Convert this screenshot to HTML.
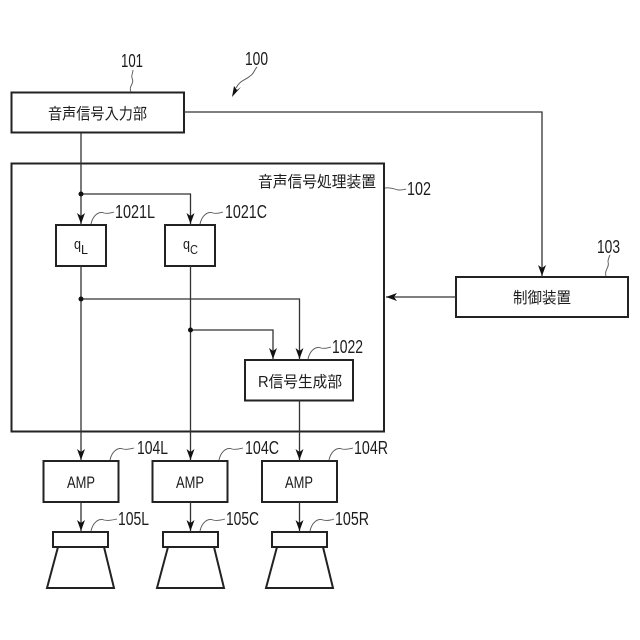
<!DOCTYPE html>
<html><head><meta charset="utf-8">
<style>
html,body{margin:0;padding:0;background:#fff}
svg{display:block}
text{font-family:"Liberation Sans","Noto Sans CJK JP",sans-serif;fill:#1c1c1c}
.b{fill:#fff;stroke:#222;stroke-width:2}
.l{fill:none;stroke:#333;stroke-width:1.300}
.c{fill:none;stroke:#555;stroke-width:.9}
.a{fill:#111;stroke:none}
.t{font-size:15.500px}
.p{font-size:16.500px}
.n{font-size:18px}
</style></head>
<body>
<svg width="640" height="640" viewBox="0 0 640 640" xmlns="http://www.w3.org/2000/svg">
<defs>
<path id="ad" d="M-4,-12 L0,-1 L4,-12 L0,-9 Z"/>
<g id="spk"><path d="M5,15 L-6,56 L61,56 L51,15" fill="#fff" stroke="#222" stroke-width="2"/><rect x="0" y="0" width="55" height="15" fill="#fff" stroke="#222" stroke-width="2"/></g>
</defs>
<rect class="b" x="11.500" y="163.500" width="372.500" height="268"/>
<rect class="b" x="11.500" y="92.500" width="172.500" height="40"/>
<rect class="b" x="56" y="225" width="50" height="41"/>
<rect class="b" x="165" y="225" width="50" height="41"/>
<rect class="b" x="456" y="277" width="172" height="40"/>
<rect class="b" x="245" y="360" width="108" height="40.500"/>
<rect class="b" x="43.500" y="461" width="75" height="41"/>
<rect class="b" x="152.500" y="461" width="75" height="41"/>
<rect class="b" x="262" y="461" width="75" height="41"/>
<use href="#spk" x="53" y="532"/>
<use href="#spk" x="163" y="532"/>
<use href="#spk" x="272" y="532"/>

<path class="l" d="M81,133V225M81,194H190.500V225M184,112H542V277M456,297H386M81,266V461M81,299H299.500V360M190.500,266V461M190.500,330H273V360M299.500,400V461M81,502V532M190.500,502V532M299.500,502V532"/>
<circle class="a" cx="81" cy="194" r="2.500"/>
<circle class="a" cx="81" cy="299" r="2.500"/>
<circle class="a" cx="190.500" cy="330" r="2.500"/>
<g class="a">
<use href="#ad" x="81" y="225"/><use href="#ad" x="190.500" y="225"/><use href="#ad" x="542" y="277"/>
<use href="#ad" x="273" y="360"/><use href="#ad" x="299.500" y="360"/>
<use href="#ad" x="81" y="461"/><use href="#ad" x="190.500" y="461"/><use href="#ad" x="299.500" y="461"/>
<use href="#ad" x="81" y="532"/><use href="#ad" x="190.500" y="532"/><use href="#ad" x="299.500" y="532"/>
<use href="#ad" transform="translate(385,297) rotate(90)"/>
</g>
<path class="a" d="M232,97 L234,86 L237,90 L241,87 Z"/>

<path class="c" d="M131,92C128,86 135,84 132,78C131,75 133,73 133,70"/>
<path class="c" d="M236,88C240,80 246,80 250,76C254,74 254,70 257,67"/>
<path class="c" d="M91,224C93,215 99,211 104,213C108,214 110,213 114,212"/>
<path class="c" d="M200,224C202,215 208,211 213,213C217,214 219,213 223,212"/>
<path class="c" d="M385,188C391,187 394,189 398,190C401,190 404,190 406,189"/>
<path class="c" d="M606,276C604,270 610,267 608,262C608,259 609,257 610,255"/>
<path class="c" d="M308,359C310,350 316,346 321,348C325,349 327,348 331,347"/>
<path class="c" d="M110,460C112,451 118,447 123,449C127,450 130,449 134,448"/>
<path class="c" d="M219,460C221,451 227,447 232,449C236,450 239,449 243,448"/>
<path class="c" d="M329,460C331,451 337,447 342,449C346,450 349,449 353,448"/>
<path class="c" d="M91,531C93,522 99,518 104,520C108,521 113,520 117,519"/>
<path class="c" d="M200,531C202,522 208,518 213,520C217,521 222,520 225,519"/>
<path class="c" d="M310,531C312,522 318,518 323,520C327,521 332,520 334,519"/>

<text class="t" x="48" y="119" textLength="99" lengthAdjust="spacingAndGlyphs">音声信号入力部</text>
<text class="t" x="258" y="187" textLength="118" lengthAdjust="spacingAndGlyphs">音声信号処理装置</text>
<text class="t" x="513" y="303" textLength="58" lengthAdjust="spacingAndGlyphs">制御装置</text>
<text class="t" x="258" y="387" textLength="84" lengthAdjust="spacingAndGlyphs">R信号生成部</text>
<text class="p" x="67" y="488" textLength="28" lengthAdjust="spacingAndGlyphs">AMP</text>
<text class="p" x="176" y="488" textLength="28" lengthAdjust="spacingAndGlyphs">AMP</text>
<text class="p" x="285" y="488" textLength="28" lengthAdjust="spacingAndGlyphs">AMP</text>
<text x="74" y="249" font-size="15" textLength="7" lengthAdjust="spacingAndGlyphs">q</text><text x="81" y="254" font-size="13" textLength="7" lengthAdjust="spacingAndGlyphs">L</text>
<text x="183" y="249" font-size="15" textLength="7" lengthAdjust="spacingAndGlyphs">q</text><text x="190" y="254" font-size="13" textLength="8" lengthAdjust="spacingAndGlyphs">C</text>

<text class="n" x="121" y="67" textLength="22" lengthAdjust="spacingAndGlyphs">101</text>
<text class="n" x="245" y="65" textLength="23" lengthAdjust="spacingAndGlyphs">100</text>
<text class="n" x="407" y="195" textLength="24" lengthAdjust="spacingAndGlyphs">102</text>
<text class="n" x="597" y="253" textLength="23" lengthAdjust="spacingAndGlyphs">103</text>
<text class="n" x="115" y="218" textLength="40" lengthAdjust="spacingAndGlyphs">1021L</text>
<text class="n" x="225" y="218" textLength="42" lengthAdjust="spacingAndGlyphs">1021C</text>
<text class="n" x="332" y="353" textLength="31" lengthAdjust="spacingAndGlyphs">1022</text>
<text class="n" x="137" y="454" textLength="31" lengthAdjust="spacingAndGlyphs">104L</text>
<text class="n" x="245" y="454" textLength="34" lengthAdjust="spacingAndGlyphs">104C</text>
<text class="n" x="354" y="454" textLength="34" lengthAdjust="spacingAndGlyphs">104R</text>
<text class="n" x="118" y="525" textLength="31" lengthAdjust="spacingAndGlyphs">105L</text>
<text class="n" x="226" y="525" textLength="33" lengthAdjust="spacingAndGlyphs">105C</text>
<text class="n" x="335" y="525" textLength="34" lengthAdjust="spacingAndGlyphs">105R</text>
</svg>
</body></html>
